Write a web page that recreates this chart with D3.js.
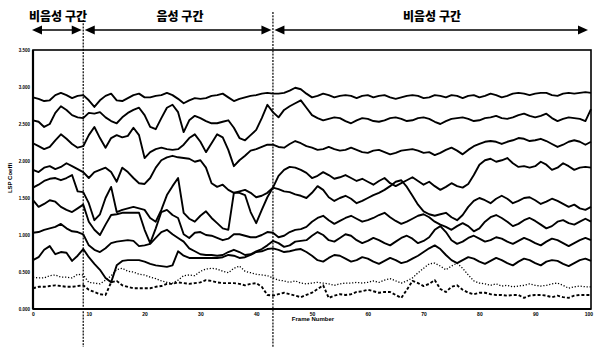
<!DOCTYPE html>
<html><head><meta charset="utf-8">
<script src="https://cdn.jsdelivr.net/npm/d3@7/dist/d3.min.js"></script>
<style>
html,body{margin:0;padding:0;background:#fff;}
svg{display:block;}
</style></head>
<body><svg id="c" width="594" height="347"></svg>
<script>
// ---- data ----
const frames = d3.range(0, 101);
const xTickValues = [0,10,20,30,40,50,60,70,80,90,100];
const xTickLabels = ["0","10","20","30","40","50","60","70","80","90","100"];
const yTickValues = [0,0.5,1,1.5,2,2.5,3,3.5];
const yTickLabels = ["0.000","0.500","1.000","1.500","2.000","2.500","3.000","3.500"];
const boundaries = [9, 43];
const segmentLabels = ["비음성 구간","음성 구간","비음성 구간"];

const lsp1 = [2.86,2.84,2.81,2.82,2.89,2.92,2.89,2.85,2.88,2.89, 2.82,2.73,2.82,2.88,2.91,2.82,2.81,2.85,2.89,2.91, 2.86,2.86,2.88,2.89,2.92,2.89,2.84,2.78,2.82,2.85, 2.84,2.85,2.88,2.89,2.91,2.86,2.81,2.84,2.86,2.88, 2.89,2.91,2.92,2.91,2.91,2.92,2.95,2.99,2.97,2.91, 2.86,2.88,2.91,2.89,2.86,2.88,2.89,2.88,2.85,2.88, 2.89,2.86,2.88,2.89,2.86,2.84,2.86,2.88,2.89,2.88, 2.85,2.86,2.89,2.88,2.86,2.89,2.88,2.85,2.88,2.89, 2.86,2.88,2.91,2.89,2.86,2.88,2.91,2.92,2.91,2.89, 2.91,2.92,2.92,2.89,2.88,2.91,2.92,2.91,2.92,2.93, 2.92];
const lsp2 = [2.55,2.53,2.46,2.50,2.65,2.74,2.69,2.62,2.59,2.58, 2.65,2.64,2.66,2.59,2.54,2.51,2.59,2.65,2.69,2.72, 2.62,2.46,2.43,2.58,2.72,2.76,2.66,2.39,2.55,2.61, 2.58,2.54,2.51,2.51,2.53,2.55,2.45,2.31,2.28,2.35, 2.42,2.58,2.76,2.66,2.59,2.69,2.74,2.78,2.82,2.72, 2.62,2.58,2.55,2.57,2.59,2.58,2.54,2.51,2.55,2.58, 2.57,2.54,2.53,2.55,2.58,2.59,2.57,2.54,2.55,2.58, 2.59,2.57,2.53,2.50,2.54,2.57,2.58,2.59,2.57,2.54, 2.55,2.58,2.59,2.61,2.58,2.57,2.59,2.62,2.64,2.61, 2.59,2.61,2.64,2.58,2.54,2.57,2.59,2.58,2.57,2.54, 2.70];
const lsp3 = [2.24,2.20,2.16,2.19,2.28,2.36,2.30,2.23,2.18,2.20, 2.35,2.46,2.31,2.18,2.31,2.35,2.32,2.34,2.45,2.35, 2.04,2.12,2.16,2.18,2.16,2.15,2.16,2.22,2.31,2.36, 2.26,2.12,2.24,2.36,2.32,2.15,1.93,2.01,2.07,2.14, 2.16,2.19,2.22,2.22,2.19,2.18,2.23,2.27,2.24,2.20, 2.18,2.15,2.16,2.19,2.16,2.14,2.15,2.18,2.15,2.12, 2.11,2.14,2.15,2.12,2.09,2.11,2.14,2.15,2.16,2.14, 2.11,2.12,2.08,2.11,2.15,2.18,2.14,2.09,2.15,2.20, 2.23,2.26,2.27,2.26,2.23,2.26,2.28,2.31,2.30,2.27, 2.28,2.30,2.27,2.23,2.19,2.22,2.26,2.28,2.26,2.22, 2.26];
const lsp4 = [1.88,1.85,1.91,1.93,1.89,1.92,1.97,1.93,1.89,1.85, 1.77,1.85,1.88,1.91,1.85,1.72,1.91,1.85,1.77,1.70, 1.69,1.77,1.91,2.01,2.05,2.07,2.05,2.04,2.03,1.99, 2.01,1.91,1.70,1.65,1.68,1.61,1.57,1.59,1.61,1.57, 1.51,1.53,1.57,1.64,1.80,1.88,1.92,1.91,1.88,1.84, 1.77,1.80,1.85,1.81,1.76,1.78,1.81,1.77,1.73,1.76, 1.72,1.68,1.73,1.77,1.70,1.66,1.70,1.74,1.78,1.73, 1.68,1.72,1.66,1.61,1.65,1.70,1.66,1.64,1.69,1.81, 1.95,2.01,2.03,1.99,2.01,2.04,1.97,1.92,1.93,1.91, 1.93,1.99,1.95,1.88,1.91,1.97,1.93,1.88,1.91,1.92, 1.91];
const lsp5 = [1.64,1.68,1.73,1.76,1.77,1.74,1.77,1.81,1.59,1.58, 1.43,1.20,1.28,1.50,1.65,1.31,1.34,1.36,1.38,1.36, 1.34,1.23,1.18,1.34,1.54,1.66,1.77,1.30,1.22,1.18, 1.26,1.32,1.23,1.16,1.09,1.07,1.57,1.57,1.54,1.31, 1.16,1.34,1.51,1.64,1.62,1.59,1.58,1.55,1.53,1.50, 1.57,1.66,1.61,1.51,1.46,1.50,1.53,1.49,1.43,1.46, 1.50,1.54,1.57,1.61,1.66,1.72,1.74,1.65,1.53,1.41, 1.32,1.28,1.26,1.28,1.30,1.24,1.20,1.27,1.38,1.46, 1.50,1.47,1.43,1.49,1.53,1.49,1.43,1.46,1.50,1.51, 1.47,1.42,1.45,1.49,1.46,1.42,1.38,1.41,1.36,1.34, 1.38];
const lsp6 = [1.47,1.38,1.42,1.47,1.45,1.38,1.34,1.31,1.36,1.41, 1.18,1.07,1.00,1.14,1.27,1.28,1.30,1.30,1.30,1.30, 1.07,0.89,1.09,1.31,1.34,1.27,1.23,1.01,0.96,1.03, 1.04,1.00,0.99,0.96,0.93,0.95,1.01,1.01,0.99,0.97, 0.97,1.00,1.04,1.03,0.97,0.99,1.04,1.07,1.08,1.11, 1.18,1.23,1.26,1.20,1.15,1.19,1.23,1.26,1.22,1.18, 1.20,1.23,1.27,1.30,1.24,1.19,1.15,1.18,1.22,1.26, 1.28,1.24,1.18,1.14,1.11,1.07,1.12,1.16,1.12,1.05, 1.09,1.18,1.24,1.27,1.23,1.18,1.12,1.15,1.20,1.23, 1.19,1.14,1.09,1.12,1.18,1.20,1.16,1.14,1.18,1.22, 1.18];
const lsp7 = [1.03,1.04,1.07,1.09,1.11,1.15,1.09,1.05,1.04,1.01, 0.86,0.80,0.77,0.82,0.89,0.91,0.92,0.93,0.92,0.85, 0.86,0.88,0.96,1.04,1.07,1.01,0.96,0.91,0.82,0.78, 0.74,0.73,0.73,0.72,0.73,0.77,0.80,0.77,0.73,0.74, 0.78,0.81,0.86,0.92,0.89,0.84,0.86,0.91,0.92,0.93, 0.99,1.04,1.00,0.93,0.91,0.96,1.01,0.99,0.93,0.89, 0.92,0.96,0.93,0.89,0.86,0.91,0.96,0.99,0.95,0.89, 0.92,0.97,1.07,1.12,1.04,0.93,0.88,0.91,0.96,0.99, 0.95,0.91,0.93,0.97,0.95,0.91,0.88,0.92,0.96,0.93, 0.89,0.86,0.91,0.95,0.93,0.89,0.85,0.89,0.93,0.96, 0.93];
const lsp8 = [0.66,0.70,0.80,0.85,0.74,0.77,0.76,0.65,0.72,0.81, 0.70,0.61,0.53,0.42,0.36,0.59,0.65,0.66,0.66,0.66, 0.64,0.61,0.59,0.58,0.57,0.59,0.78,0.72,0.69,0.69, 0.69,0.69,0.69,0.69,0.70,0.73,0.72,0.69,0.70,0.73, 0.77,0.78,0.81,0.82,0.80,0.77,0.78,0.80,0.81,0.77, 0.72,0.66,0.64,0.69,0.73,0.72,0.68,0.64,0.66,0.70, 0.68,0.64,0.61,0.65,0.69,0.66,0.62,0.64,0.68,0.72, 0.77,0.82,0.86,0.81,0.73,0.66,0.62,0.66,0.70,0.68, 0.64,0.61,0.65,0.69,0.66,0.62,0.59,0.64,0.68,0.66, 0.62,0.59,0.64,0.66,0.65,0.61,0.58,0.62,0.66,0.68, 0.65];
const lsp9 = [0.43,0.42,0.42,0.45,0.46,0.43,0.43,0.42,0.47,0.46, 0.36,0.35,0.34,0.39,0.45,0.53,0.55,0.51,0.50,0.47, 0.46,0.43,0.41,0.38,0.36,0.35,0.39,0.45,0.46,0.45, 0.51,0.54,0.55,0.54,0.51,0.49,0.55,0.58,0.51,0.49, 0.47,0.46,0.45,0.42,0.39,0.38,0.36,0.38,0.35,0.34, 0.35,0.36,0.35,0.34,0.32,0.34,0.35,0.35,0.36,0.35, 0.36,0.38,0.36,0.39,0.41,0.38,0.35,0.38,0.42,0.49, 0.55,0.61,0.62,0.58,0.53,0.58,0.62,0.55,0.46,0.38, 0.35,0.34,0.32,0.34,0.31,0.32,0.30,0.31,0.32,0.34, 0.32,0.31,0.32,0.34,0.35,0.32,0.28,0.30,0.31,0.30, 0.30];
const lsp10 = [0.28,0.30,0.30,0.31,0.32,0.31,0.30,0.30,0.31,0.32, 0.26,0.23,0.20,0.19,0.36,0.38,0.32,0.30,0.28,0.28, 0.28,0.28,0.30,0.31,0.34,0.34,0.36,0.35,0.34,0.35, 0.36,0.39,0.38,0.36,0.35,0.35,0.35,0.34,0.32,0.34, 0.35,0.30,0.19,0.18,0.20,0.22,0.20,0.18,0.16,0.19, 0.22,0.27,0.32,0.15,0.18,0.20,0.19,0.20,0.23,0.24, 0.26,0.24,0.22,0.23,0.23,0.19,0.15,0.26,0.38,0.35, 0.31,0.34,0.39,0.27,0.23,0.30,0.32,0.26,0.22,0.20, 0.22,0.22,0.20,0.19,0.19,0.18,0.19,0.19,0.15,0.18, 0.19,0.19,0.18,0.16,0.18,0.16,0.15,0.18,0.19,0.19, 0.19];

const seriesList = [lsp1,lsp2,lsp3,lsp4,lsp5,lsp6,lsp7,lsp8,lsp9,lsp10];
const seriesStyle = [null,null,null,null,null,null,null,null,"dot","dash"];

// ---- drawing ----
const svg = d3.select("#c");
const L = 33, R = 591, T = 50, B = 309;
const x = d3.scaleLinear().domain([0,100]).range([L,R]);
const y = d3.scaleLinear().domain([0,3.5]).range([B,T]);

// series
const line = d3.line().x((d,i)=>x(frames[i])).y(d=>y(d));
seriesList.forEach((s,k)=>{
  const p = svg.append("path").attr("d", line(s)).attr("fill","none")
    .attr("stroke","#000").attr("stroke-linejoin","round");
  if (seriesStyle[k]==="dot") p.attr("stroke-width",1.3).attr("stroke-dasharray","1.2,1.8");
  else if (seriesStyle[k]==="dash") p.attr("stroke-width",1.9).attr("stroke-dasharray","3,2");
  else p.attr("stroke-width",1.9);
});

// frame
svg.append("rect").attr("x",L).attr("y",T).attr("width",R-L).attr("height",B-T)
  .attr("fill","none").attr("stroke","#000").attr("stroke-width",1.6);
svg.append("line").attr("x1",L).attr("x2",L).attr("y1",T).attr("y2",B).attr("stroke","#000").attr("stroke-width",2.2);
svg.append("line").attr("x1",L).attr("x2",R).attr("y1",B).attr("y2",B).attr("stroke","#000").attr("stroke-width",2.2);

// axes (labels only)
const xAxis = svg.append("g").attr("transform",`translate(0,${B})`)
  .call(d3.axisBottom(x).tickValues(xTickValues).tickSize(0).tickPadding(3)
  .tickFormat((d,i)=>xTickLabels[i]));
xAxis.select(".domain").remove();
xAxis.selectAll("text").attr("font-family","Liberation Sans, Arial, sans-serif")
  .attr("font-size",5).attr("font-weight","bold").attr("fill","#000");
xAxis.selectAll(".tick").filter(d=>d===100).select("text").attr("text-anchor","end").attr("dx",1.5);

const yAxis = svg.append("g").attr("transform",`translate(${L},0)`)
  .call(d3.axisLeft(y).tickValues(yTickValues).tickSize(0).tickPadding(3)
  .tickFormat((d,i)=>yTickLabels[i]));
yAxis.select(".domain").remove();
yAxis.selectAll("text").attr("font-family","Liberation Sans, Arial, sans-serif")
  .attr("font-size",4.5).attr("font-weight","bold").attr("fill","#000");

svg.append("text").attr("x",(L+R)/2+1).attr("y",321).attr("text-anchor","middle")
  .attr("font-family","Liberation Sans, Arial, sans-serif").attr("font-size",6)
  .attr("font-weight","bold").text("Frame Number");
svg.append("text").attr("transform","translate(12,178) rotate(-90)").attr("text-anchor","middle")
  .attr("font-family","Liberation Sans, Arial, sans-serif").attr("font-size",6)
  .attr("font-weight","bold").text("LSP Coeffi");

// boundary lines
const tops = [20, 12];
boundaries.forEach((b,i)=>{
  svg.append("line").attr("x1",x(b)).attr("x2",x(b)).attr("y1",tops[i]).attr("y2",347)
    .attr("stroke","#000").attr("stroke-width",1.2).attr("stroke-dasharray","2,1.2");
});

// segment arrows & labels
const segs = [[0,boundaries[0]],[boundaries[0],boundaries[1]],[boundaries[1],100]];
const ay = 30;
function head(px, dir){ // dir -1 left, +1 right
  const len = 10, h = 4.5;
  svg.append("path").attr("d",`M${px},${ay} L${px-dir*len},${ay-h} L${px-dir*len},${ay+h} Z`).attr("fill","#000");
}
const labelX = [58, 180, 432];
segs.forEach((s,i)=>{
  const x0 = x(s[0]) + (i===0?-1:1.5), x1 = x(s[1]) - (i===2?3:1.5);
  svg.append("line").attr("x1",x0+4).attr("x2",x1-4).attr("y1",ay).attr("y2",ay).attr("stroke","#000").attr("stroke-width",1.6);
  head(x0,-1); head(x1,1);
  svg.append("text").attr("x",labelX[i]).attr("y",21).attr("text-anchor","middle")
    .attr("font-family","Noto Sans CJK KR, sans-serif").attr("font-size",12).attr("font-weight","900")
    .text(segmentLabels[i]);
});
</script></body></html>
